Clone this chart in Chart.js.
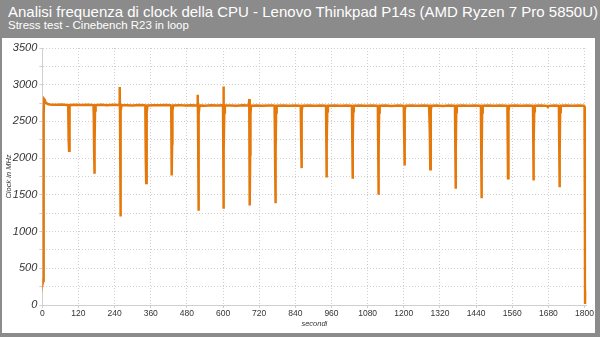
<!DOCTYPE html>
<html>
<head>
<meta charset="utf-8">
<script src="https://cdn.jsdelivr.net/npm/chart.js@4/dist/chart.umd.min.js"></script>
<style>
  html, body { margin: 0; padding: 0; }
  body { width: 600px; height: 337px; background: #8b8b8b; position: relative; overflow: hidden; font-family: "Liberation Sans", Arial, sans-serif; }
  .title { position: absolute; left: 8px; top: 3.5px; color: #fff; font-size: 15px; line-height: 15px; white-space: nowrap; }
  .subtitle { position: absolute; left: 8px; top: 19.5px; color: #fff; font-size: 11.5px; line-height: 11.5px; white-space: nowrap; }
  .panel { position: absolute; left: 2px; top: 38px; width: 593px; height: 295px; background: #fff; }
</style>
</head>
<body>
<div class="title">Analisi frequenza di clock della CPU - Lenovo Thinkpad P14s (AMD Ryzen 7 Pro 5850U)</div>
<div class="subtitle">Stress test - Cinebench R23 in loop</div>
<div class="panel"><canvas id="clockChart" width="593" height="295"></canvas></div>
<script>
// tempo in secondi e frequenza di clock (MHz) durante Cinebench R23 in loop
const seconds = [
    0, 1, 2, 3, 4, 5, 6, 8, 10, 13, 18, 25, 35, 50, 65, 80,
    86, 87, 88, 89, 90, 91, 93, 110, 130, 150, 165,
    170, 171, 172, 173, 174, 175, 177, 195, 215, 235, 250,
    256, 257, 258, 259, 260, 261, 263, 280, 300, 320, 338,
    342, 343, 344, 345, 346, 347, 349, 370, 390, 410, 425,
    428, 429, 430, 431, 432, 434, 455, 475, 495, 512,
    515, 516, 517, 518, 519, 520, 522, 540, 560, 580, 597,
    600, 601, 602, 603, 604, 606, 625, 645, 665, 683,
    686, 687, 688, 689, 690, 691, 693, 712, 732, 752, 768,
    771, 772, 773, 774, 775, 776, 778, 800, 820, 840, 855,
    858, 859, 860, 861, 862, 864, 885, 905, 925, 940,
    942, 943, 944, 945, 946, 948, 970, 990, 1010, 1026,
    1028, 1029, 1030, 1031, 1032, 1034, 1055, 1075, 1095, 1112,
    1114, 1115, 1116, 1117, 1118, 1120, 1140, 1160, 1180, 1198,
    1200, 1201, 1202, 1203, 1204, 1206, 1225, 1245, 1265, 1284,
    1286, 1287, 1288, 1289, 1290, 1292, 1310, 1330, 1350, 1368,
    1370, 1371, 1372, 1373, 1374, 1376, 1395, 1415, 1435, 1454,
    1456, 1457, 1458, 1459, 1460, 1462, 1480, 1500, 1520, 1542,
    1544, 1545, 1546, 1547, 1548, 1550, 1570, 1590, 1610, 1627,
    1629, 1630, 1631, 1632, 1633, 1635, 1655, 1675, 1678, 1681, 1700, 1713,
    1715, 1716, 1717, 1718, 1719, 1721, 1740, 1760, 1780, 1798,
    1800, 1801, 1802, 1803, 1804, 1805, 1806
];
const clockMHz = [
    360, 330, 300, 330, 1500, 2600, 2805, 2795, 2765, 2750, 2738, 2732, 2728, 2726, 2729, 2724,
    2722, 2600, 2250, 2100, 2400, 2690, 2725, 2727, 2723, 2728, 2724,
    2720, 2550, 2100, 1786, 2200, 2650, 2722, 2726, 2721, 2727, 2723,
    2725, 2968, 2600, 1205, 2100, 2650, 2720, 2722, 2718, 2724, 2720,
    2716, 2450, 2000, 1660, 2150, 2620, 2718, 2722, 2719, 2724, 2720,
    2712, 2400, 1765, 2200, 2640, 2718, 2722, 2716, 2721, 2718,
    2720, 2864, 2500, 1282, 2050, 2600, 2718, 2715, 2720, 2716, 2719,
    2722, 2977, 1310, 2100, 2620, 2716, 2718, 2714, 2719, 2716,
    2718, 2805, 2400, 1355, 2050, 2600, 2715, 2718, 2713, 2717, 2716,
    2712, 2400, 1900, 1386, 2100, 2620, 2714, 2717, 2713, 2716, 2714,
    2710, 2350, 1864, 2250, 2650, 2715, 2718, 2713, 2717, 2714,
    2708, 2300, 1736, 2200, 2640, 2714, 2717, 2712, 2716, 2714,
    2708, 2300, 1718, 2200, 2640, 2714, 2716, 2712, 2717, 2713,
    2708, 2200, 1500, 2100, 2620, 2714, 2716, 2711, 2716, 2713,
    2708, 2400, 1900, 2300, 2660, 2714, 2717, 2712, 2716, 2714,
    2708, 2350, 1850, 2250, 2650, 2714, 2716, 2711, 2716, 2713,
    2706, 2200, 1582, 2100, 2630, 2714, 2717, 2712, 2716, 2714,
    2706, 2150, 1455, 2050, 2620, 2714, 2716, 2712, 2717, 2714,
    2708, 2250, 1727, 2200, 2640, 2715, 2717, 2712, 2716, 2714,
    2708, 2250, 1696, 2200, 2640, 2715, 2716, 2712, 2698, 2712, 2716, 2714,
    2706, 2200, 1605, 2100, 2630, 2715, 2717, 2713, 2716, 2714,
    2700, 1500, 32, 120, 205, 90, 150
];

// tacche degli assi
const xTickValues = [0, 120, 240, 360, 480, 600, 720, 840, 960, 1080, 1200, 1320, 1440, 1560, 1680, 1800];
const xMax = 1806;
const yTickValues = [0, 250, 500, 750, 1000, 1250, 1500, 1750, 2000, 2250, 2500, 2750, 3000, 3250, 3500];
const yLabelEvery = 500;

const points = seconds.map((s, i) => ({ x: s, y: clockMHz[i] }));

const gridColor = "#cfcfcf";
const textColor = "#333333";

new Chart(document.getElementById("clockChart"), {
    type: "line",
    data: {
        datasets: [
            {
                label: "Clock",
                data: points,
                borderColor: "#e5780b",
                borderWidth: 2.5,
                pointRadius: 0,
                tension: 0,
                fill: false,
            },
        ],
    },
    options: {
        responsive: false,
        animation: false,
        devicePixelRatio: 1,
        layout: {
            padding: { top: 10, right: 6, left: 0, bottom: 0 },
        },
        plugins: {
            legend: { display: false },
            tooltip: { enabled: false },
        },
        scales: {
            x: {
                type: "linear",
                min: 0,
                max: xMax,
                afterFit: (scale) => { scale.height = 28; },
                afterBuildTicks: (scale) => {
                    scale.ticks = xTickValues.map((v) => ({ value: v }));
                },
                grid: {
                    color: gridColor,
                    tickColor: gridColor,
                    tickLength: 3,
                },
                border: { color: gridColor, dash: [1, 2] },
                ticks: {
                    autoSkip: false,
                    maxRotation: 0,
                    padding: 1,
                    color: textColor,
                    font: { family: "Liberation Sans", size: 8.5 },
                    callback: (v) => String(v),
                },
                title: {
                    display: true,
                    text: "secondi",
                    color: textColor,
                    padding: { top: 0, bottom: 5 },
                    font: { family: "Liberation Sans", size: 7.5, style: "italic" },
                },
            },
            y: {
                min: yTickValues[0],
                max: yTickValues[yTickValues.length - 1],
                afterFit: (scale) => { scale.width = 40.3; },
                afterBuildTicks: (scale) => {
                    scale.ticks = yTickValues.map((v) => ({ value: v }));
                },
                grid: {
                    color: gridColor,
                    tickColor: gridColor,
                    tickLength: 3,
                },
                border: { color: gridColor, dash: [1, 2] },
                ticks: {
                    padding: 2,
                    color: textColor,
                    font: { family: "Liberation Sans", size: 11, style: "italic" },
                    callback: (v) => (v % yLabelEvery === 0 ? String(v) : ""),
                },
                title: {
                    display: true,
                    text: "Clock in MHz",
                    color: textColor,
                    padding: { top: 2, bottom: 0 },
                    font: { family: "Liberation Sans", size: 7.5, style: "italic" },
                },
            },
        },
    },
});
</script>
</body>
</html>
